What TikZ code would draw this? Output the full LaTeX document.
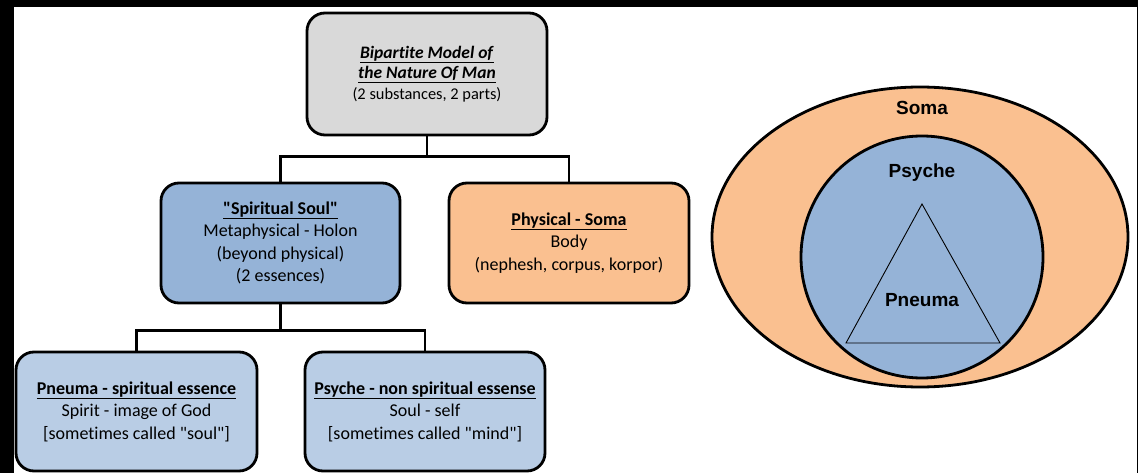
\documentclass[tikz,border=0pt]{standalone}
\usepackage{fontspec}
\setmainfont{Carlito}[Ligatures={TeXOff,NoCommon}]
\newfontfamily\arialfont{Liberation Sans}
\definecolor{boxgrey}{HTML}{D9D9D9}
\definecolor{midblue}{HTML}{95B3D7}
\definecolor{lightblue}{HTML}{B9CDE5}
\definecolor{somaorange}{HTML}{FAC090}
\begin{document}
\begin{tikzpicture}[x=1pt,y=-1pt,
  box/.style={draw=black, line width=2.8pt, rounded corners=18pt, align=center,
    inner sep=0pt, minimum width=240pt, minimum height=120pt,
    font=\fontsize{18}{22.5}\selectfont},
  link/.style={line width=2.8pt},
  outline/.style={draw=black, line width=2.8pt},
  setlabel/.style={font=\arialfont\bfseries\fontsize{19}{22}\selectfont, inner sep=0pt}]
\useasboundingbox (0,0) rectangle (1138,473);
\fill[black] (0,0) rectangle (1138,473);
\fill[white] (14,7) rectangle (1137,473);
% tree
\node[box, fill=boxgrey, minimum height=122pt, font=\fontsize{17.5}{20.5}\selectfont] (top) at (427,74)
  {\underline{\textbf{\textit{Bipartite Model of}}}\\ \underline{\textbf{\textit{the Nature Of Man}}}\\{\fontsize{16.4}{20}\selectfont(2 substances, 2 parts)}};
\node[box, fill=midblue, minimum width=239pt] (soul) at (280.5,243)
  {\underline{\textbf{"Spiritual Soul"}}\\Metaphysical - Holon\\(beyond physical)\\(2 essences)};
\node[box, fill=somaorange] (body) at (569,243)
  {\underline{\textbf{Physical - Soma}}\\Body\\(nephesh, corpus, korpor)};
\node[box, fill=lightblue, minimum width=241pt, minimum height=119pt] (pneuma) at (136.5,411.5)
  {\underline{\textbf{Pneuma - spiritual essence}}\\Spirit - image of God\\{[sometimes called "soul"]}};
\node[box, fill=lightblue, minimum height=119pt] (psyche) at (425,411.5)
  {\underline{\textbf{Psyche - non spiritual essense}}\\Soul - self\\{[sometimes called "mind"]}};
\draw[link] (top.south) -- ++(0,20) -| (soul.north);
\draw[link] (top.south) -- ++(0,20) -| (body.north);
\draw[link] (soul.south) -- ++(0,26) -| (pneuma.north);
\draw[link] (soul.south) -- ++(0,26) -| (psyche.north);
% set diagram
\draw[outline, fill=somaorange] (920,237) ellipse [x radius=208, y radius=150];
\draw[outline, fill=midblue] (922,257) circle [radius=121];
\draw[black, line width=0.9pt] (922,204) -- (1000,343) -- (846,343) -- cycle;
\node[setlabel] (somalabel) at (922,108) {Soma};
\node[setlabel] (psychelabel) at (922,173) {Psyche};
\node[setlabel] (pneumalabel) at (922,300) {Pneuma};
\end{tikzpicture}
\end{document}
